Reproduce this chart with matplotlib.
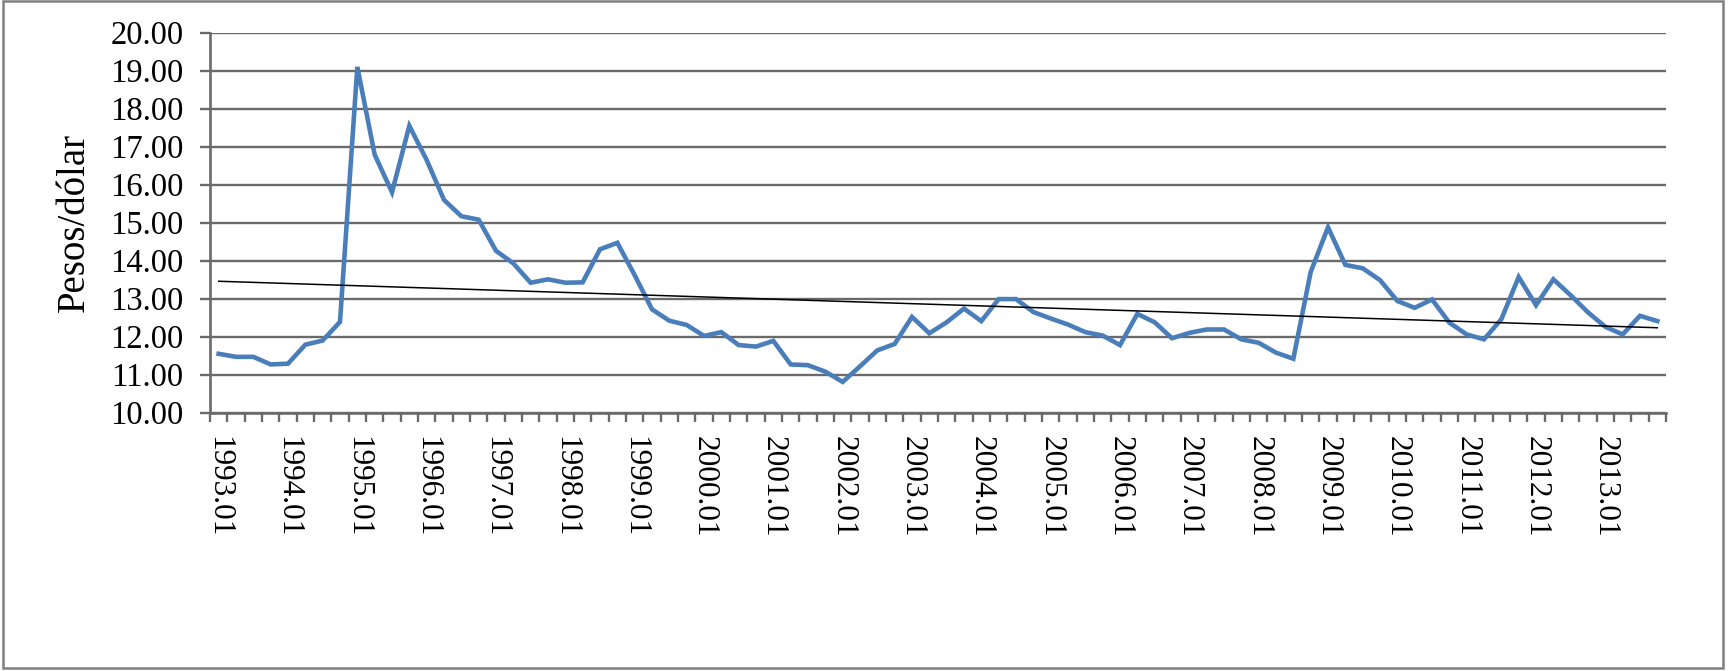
import numpy as np
import matplotlib
matplotlib.use("Agg")
import matplotlib.pyplot as plt
from matplotlib.patches import Rectangle

plt.rcParams['font.family'] = ['Liberation Serif', 'DejaVu Serif']

# quarterly peso / dollar rate, 1993.Q1 - 2013.Q4
years = list(range(1993, 2014))
quarters = ["01", "02", "03", "04"]

rate = [
    11.55, 11.47, 11.47, 11.27, 11.29, 11.79, 11.90, 12.39,
    19.10, 16.79, 15.80, 17.55, 16.65, 15.60, 15.17, 15.08,
    14.26, 13.93, 13.42, 13.51, 13.42, 13.43, 14.30, 14.47,
    13.62, 12.72, 12.42, 12.31, 12.02, 12.12, 11.78, 11.74,
    11.89, 11.27, 11.25, 11.08, 10.81, 11.22, 11.64, 11.81,
    12.52, 12.09, 12.38, 12.74, 12.41, 12.99, 12.99, 12.65,
    12.48, 12.32, 12.12, 12.03, 11.78, 12.60, 12.38, 11.96,
    12.10, 12.19, 12.19, 11.93, 11.84, 11.58, 11.42, 13.70,
    14.88, 13.89, 13.80, 13.49, 12.94, 12.76, 12.98, 12.37,
    12.06, 11.93, 12.46, 13.57, 12.83, 13.51, 13.09, 12.64,
    12.26, 12.06, 12.55, 12.41,
]

periods = [f"{y}.{q}" for y in years for q in quarters]

y_ticks = [10, 11, 12, 13, 14, 15, 16, 17, 18, 19, 20]

GRAY = "#6a6a6a"
BLUE = "#4a7ebb"

fig = plt.figure(figsize=(17.30, 6.71), dpi=100)
ax = fig.add_axes([210 / 1730, 1 - 412.7 / 671,
                   1456 / 1730, 380 / 671])

x = np.arange(len(rate))

ax.plot(x, rate, color=BLUE, linewidth=3.3, solid_joinstyle="miter",
        zorder=3)

# linear trend (as the spreadsheet trendline)
slope, icpt = np.polyfit(x, rate, 1)
ax.plot(x, slope * x + icpt, color="black", linewidth=1.1, zorder=4)

ax.set_xlim(-0.5, len(rate) - 0.5)
ax.set_ylim(10, 20)

ax.set_yticks(y_ticks)
ax.set_yticklabels([f"{v:.2f}" for v in y_ticks])
ax.yaxis.grid(True, color=GRAY, linewidth=1.7)
ax.set_axisbelow(True)

lab_idx = x[::4]
ax.set_xticks(lab_idx)
ax.set_xticklabels([periods[i] for i in lab_idx], rotation=270,
                   ha="center", va="top")
ax.set_xticks(np.arange(-0.5, len(rate)), minor=True)

ax.tick_params(axis="x", which="major", length=0, pad=16.5,
               labelsize=22.5)
ax.tick_params(axis="x", which="minor", length=6.5, width=1.7,
               color=GRAY, direction="out")
ax.tick_params(axis="y", length=7.2, width=1.7, color=GRAY,
               pad=12, labelsize=23.5)

for side in ("top", "right"):
    ax.spines[side].set_visible(False)
for side in ("left", "bottom"):
    ax.spines[side].set_color(GRAY)
    ax.spines[side].set_linewidth(1.9)

ax.set_ylabel("Pesos/dólar", fontsize=28, labelpad=12)

# outer frame of the chart area
fig.patches.append(Rectangle((3 / 1730, 3 / 671), 1720 / 1730, 667 / 671,
                             transform=fig.transFigure, fill=False,
                             edgecolor="#808080", linewidth=1.8))

fig.savefig("out.png", dpi=100)
